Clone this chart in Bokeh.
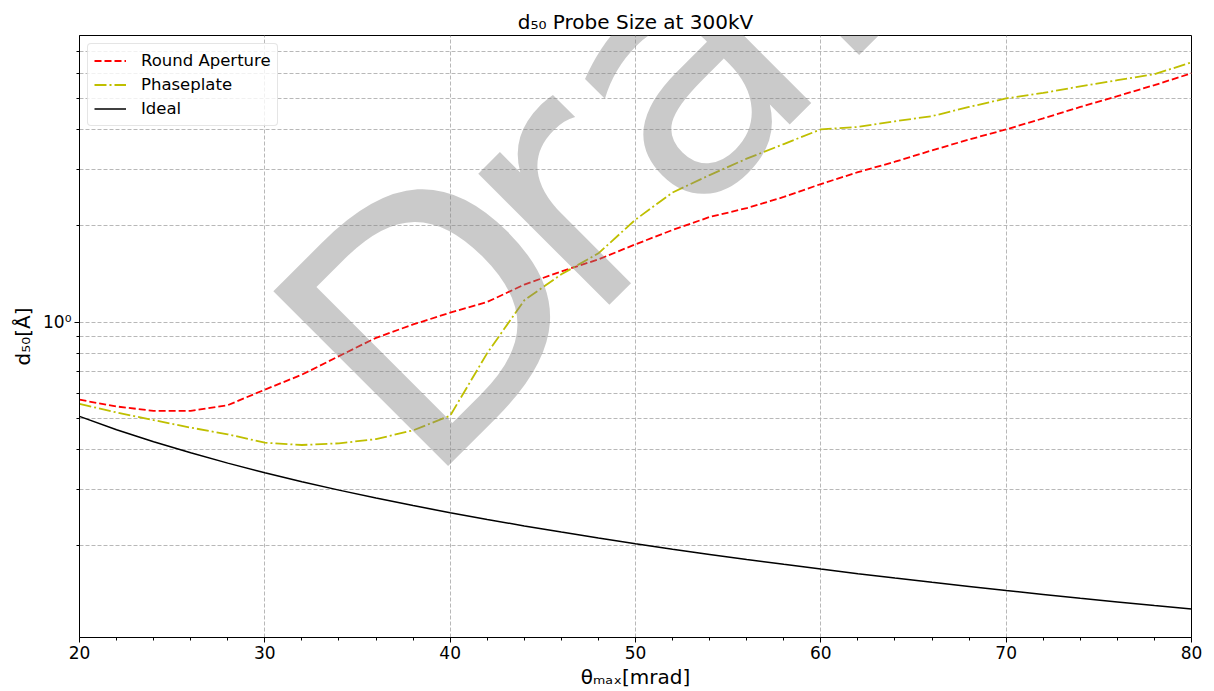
from bokeh.plotting import figure
from bokeh.models import Range1d, FixedTicker, Label, Legend, LegendItem
from bokeh.embed import file_html
from bokeh.resources import INLINE

# ---- data ----
theta = [20, 22, 24, 26, 28, 30, 32, 34, 36, 38, 40, 42, 44, 46, 48, 50,
         52, 54, 56, 58, 60, 62, 64, 66, 68, 70, 72, 74, 76, 78, 80]
round_aperture = [0.572, 0.545, 0.528, 0.528, 0.550, 0.615, 0.685, 0.783, 0.893, 0.983,
                  1.07, 1.156, 1.31, 1.44, 1.57, 1.75, 1.94, 2.13, 2.27, 2.46,
                  2.70, 2.94, 3.17, 3.44, 3.72, 4.00, 4.33, 4.70, 5.08, 5.50, 5.99]
phaseplate = [0.555, 0.522, 0.494, 0.468, 0.446, 0.420, 0.413, 0.418, 0.431, 0.459,
              0.510, 0.80, 1.17, 1.41, 1.64, 2.09, 2.54, 2.88, 3.24, 3.60,
              4.00, 4.07, 4.24, 4.40, 4.70, 5.00, 5.20, 5.45, 5.70, 5.95, 6.48]
ideal = [0.5075, 0.4610, 0.4230, 0.3905, 0.3625, 0.3383, 0.3172, 0.2985, 0.2820, 0.2671,
         0.2538, 0.2417, 0.2307, 0.2207, 0.2115, 0.2030, 0.1952, 0.1880, 0.1813, 0.1750,
         0.1692, 0.1637, 0.1586, 0.1538, 0.1493, 0.1450, 0.1410, 0.1372, 0.1336, 0.1301, 0.1269]

x_major = [20, 30, 40, 50, 60, 70, 80]
x_minor = [22, 24, 26, 28, 32, 34, 36, 38, 42, 44, 46, 48, 52, 54, 56, 58,
           62, 64, 66, 68, 72, 74, 76, 78]
y_major = [1.0]
y_major_labels = {1.0: "10⁰"}
y_minor = [0.2, 0.3, 0.4, 0.5, 0.6, 0.7, 0.8, 0.9, 2, 3, 4, 5, 6, 7]

FONT = "DejaVu Sans"

p = figure(width=1206, height=691, y_axis_type="log",
           x_range=Range1d(20, 80), y_range=Range1d(0.1034, 7.86),
           output_backend="svg", toolbar_location=None,
           min_border_left=79, min_border_right=15, min_border_top=35, min_border_bottom=53,
           title="d₅₀ Probe Size at 300kV")

p.title.align = "center"
p.title.text_font = FONT
p.title.text_font_size = "20px"
p.title.text_font_style = "normal"
p.title.text_color = "black"
p.title.standoff = 4

p.outline_line_color = "black"
p.outline_line_width = 1
p.outline_line_alpha = 1
p.background_fill_color = "white"
p.border_fill_color = "white"

# axes
p.xaxis.ticker = FixedTicker(ticks=x_major, minor_ticks=x_minor)
p.yaxis.ticker = FixedTicker(ticks=y_major, minor_ticks=y_minor)
p.yaxis.major_label_overrides = y_major_labels
for ax in (p.xaxis[0], p.yaxis[0]):
    ax.major_label_text_font = FONT
    ax.major_label_text_font_size = "17px"
    ax.major_label_text_color = "black"
    ax.axis_label_text_font = FONT
    ax.axis_label_text_font_size = "20px"
    ax.axis_label_text_font_style = "normal"
    ax.axis_label_text_color = "black"
    ax.axis_line_color = "black"
    ax.major_tick_line_color = "black"
    ax.minor_tick_line_color = "black"
    ax.major_tick_in = 0
    ax.major_tick_out = 5
    ax.minor_tick_in = 0
    ax.minor_tick_out = 3
    ax.major_label_standoff = 3
p.xaxis.axis_label = "θₘₐₓ[mrad]"
p.yaxis.axis_label = "d₅₀[Å]"
p.xaxis.axis_label_standoff = 3
p.yaxis.axis_label_standoff = 5

# grids
for g in (p.xgrid[0], p.ygrid[0]):
    g.grid_line_color = "#b0b0b0"
    g.grid_line_dash = "4 2"
    g.grid_line_width = 0.9
p.ygrid.minor_grid_line_color = "#b0b0b0"
p.ygrid.minor_grid_line_dash = "4 2"
p.ygrid.minor_grid_line_width = 0.9

# series
r1 = p.line(theta, round_aperture, line_color="#ff0000", line_width=1.8, line_dash="7 3")
r2 = p.line(theta, phaseplate, line_color="#bfbf00", line_width=1.8, line_dash="12 3 2 3")
r3 = p.line(theta, ideal, line_color="black", line_width=1.5)

legend = Legend(items=[LegendItem(label="Round Aperture", renderers=[r1]),
                       LegendItem(label="Phaseplate", renderers=[r2]),
                       LegendItem(label="Ideal", renderers=[r3])],
                location="top_left")
legend.margin = 8
legend.padding = 6
legend.spacing = 3
legend.label_height = 21
legend.glyph_height = 21
legend.glyph_width = 32
legend.label_standoff = 15
legend.label_text_font = FONT
legend.label_text_font_size = "16.5px"
legend.label_text_color = "black"
legend.border_line_color = "#cccccc"
legend.border_line_width = 1
legend.border_radius = 4
legend.background_fill_color = "white"
legend.background_fill_alpha = 0.8
p.add_layout(legend)

# watermark (tighter spacing after the D, as in the reference)
wm_style = dict(x_units="screen", y_units="screen", angle=45, angle_units="deg",
                text_font=FONT, text_font_size="339px", text_color="#808080",
                text_alpha=0.42, text_align="left", text_baseline="alphabetic")
p.add_layout(Label(x=262, y=231, text="D", **wm_style))
p.add_layout(Label(x=425, y=394, text="raft", **wm_style))

open("out.html", "w").write(file_html(p, INLINE))
